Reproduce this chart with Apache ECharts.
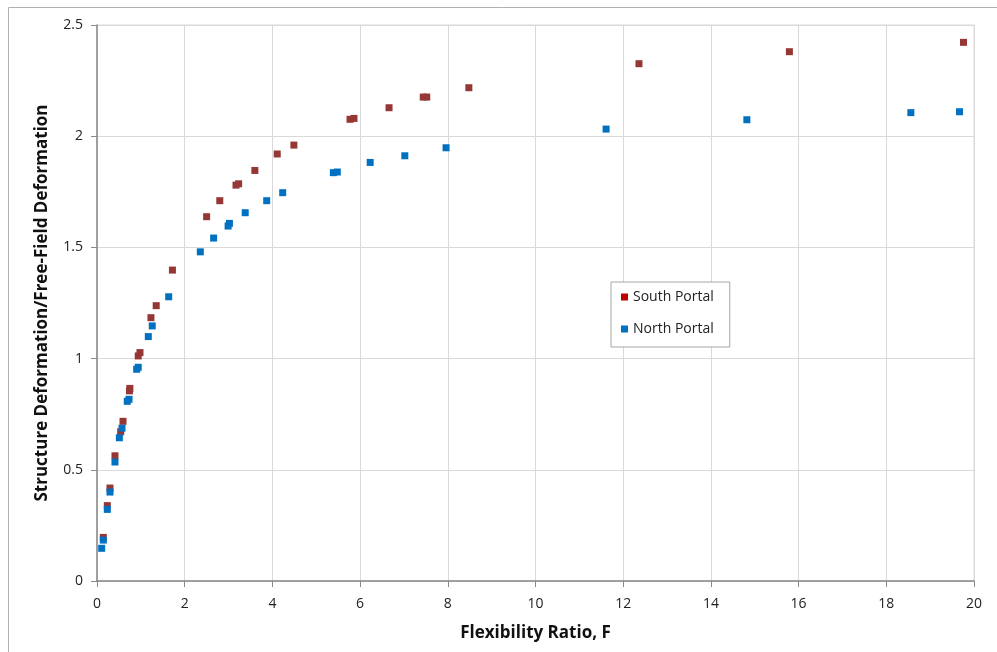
<!DOCTYPE html>
<html>
<head>
<meta charset="utf-8">
<script src="https://cdn.jsdelivr.net/npm/echarts@6/dist/echarts.min.js"></script>
<style>html,body{margin:0;padding:0;background:#fff}#c{width:997px;height:652px}</style>
</head>
<body>
<div id="c"></div>
<script>
var southF = [0.144,0.235,0.296,0.41,0.54,0.593,0.74,0.75,0.94,0.98,1.23,1.35,1.72,2.50,2.80,3.17,3.23,3.60,4.11,4.49,5.77,5.86,6.66,7.44,7.52,8.48,12.36,15.79,19.76];
var southV = [0.196,0.339,0.418,0.563,0.671,0.718,0.855,0.866,1.012,1.027,1.184,1.238,1.398,1.638,1.71,1.78,1.786,1.846,1.92,1.96,2.076,2.08,2.128,2.176,2.176,2.218,2.326,2.38,2.422];
var northF = [0.107,0.144,0.235,0.296,0.41,0.51,0.57,0.69,0.73,0.905,0.94,1.17,1.26,1.635,2.356,2.66,2.99,3.02,3.38,3.87,4.235,5.39,5.48,6.23,7.02,7.96,11.61,14.82,18.56,19.67];
var northV = [0.147,0.184,0.322,0.40,0.535,0.644,0.687,0.808,0.817,0.952,0.961,1.099,1.147,1.278,1.48,1.542,1.596,1.608,1.656,1.71,1.746,1.836,1.839,1.882,1.912,1.948,2.032,2.074,2.106,2.11];
var xTicks = [0,2,4,6,8,10,12,14,16,18,20];
var yTicks = [0,0.5,1,1.5,2,2.5];
var seriesNames = ['South Portal','North Portal'];
var xTitle = 'Flexibility Ratio, F';
var yTitle = 'Structure Deformation/Free-Field Deformation';

function pairs(a,b){return a.map(function(v,i){return [v,b[i]];});}
var font = '"Open Sans", "Noto Sans", sans-serif';
var chart = echarts.init(document.getElementById('c'));
chart.setOption({
  animation:false,
  graphic:[{type:'rect',shape:{x:8.5,y:7.5,width:1100,height:700},style:{fill:'none',stroke:'#b0b0b0',lineWidth:1},silent:true,z:-1}],
  grid:{left:97,right:23,top:25,bottom:71,show:true,borderColor:'#d9d9d9',borderWidth:1},
  legend:{
    orient:'vertical',left:611,top:282,
    padding:[8,16,11,10],itemGap:18,itemWidth:7,itemHeight:7,
    borderColor:'#a6a6a6',borderWidth:1,backgroundColor:'#fff',
    textStyle:{fontFamily:font,fontSize:14,color:'#222'},
    data:[{name:seriesNames[0],icon:'rect',itemStyle:{color:'#c00000'}},{name:seriesNames[1],icon:'rect',itemStyle:{color:'#0070c0'}}]
  },
  xAxis:{
    type:'value',min:xTicks[0],max:xTicks[xTicks.length-1],interval:2,
    name:xTitle,nameLocation:'middle',nameGap:44,
    nameTextStyle:{fontFamily:font,fontSize:17,fontWeight:'bold',color:'#111'},
    axisLine:{show:true,onZero:false,lineStyle:{color:'#888',width:1.5}},
    axisTick:{show:true,inside:false,length:6,lineStyle:{color:'#888'}},
    axisLabel:{fontFamily:font,fontSize:14,color:'#222',margin:16,formatter:function(v){return xTicks.indexOf(v)>=0?String(v):'';}},
    splitLine:{show:true,lineStyle:{color:'#d9d9d9',width:1}}
  },
  yAxis:{
    type:'value',min:yTicks[0],max:yTicks[yTicks.length-1],interval:0.5,
    name:yTitle,nameLocation:'middle',nameGap:46,
    nameTextStyle:{fontFamily:font,fontSize:17,fontWeight:'bold',color:'#111'},
    axisLine:{show:true,onZero:false,lineStyle:{color:'#888',width:1.5}},
    axisTick:{show:true,inside:false,length:6,lineStyle:{color:'#888'}},
    axisLabel:{fontFamily:font,fontSize:14,color:'#222',margin:14,formatter:function(v){return yTicks.indexOf(v)>=0?String(v):'';}},
    splitLine:{show:true,lineStyle:{color:'#d9d9d9',width:1}}
  },
  series:[
    {name:seriesNames[0],type:'scatter',symbol:'rect',symbolSize:7,itemStyle:{color:'#953735',opacity:1},data:pairs(southF,southV)},
    {name:seriesNames[1],type:'scatter',symbol:'rect',symbolSize:7,itemStyle:{color:'#0070c0',opacity:1},data:pairs(northF,northV)}
  ]
});
</script>
</body>
</html>
